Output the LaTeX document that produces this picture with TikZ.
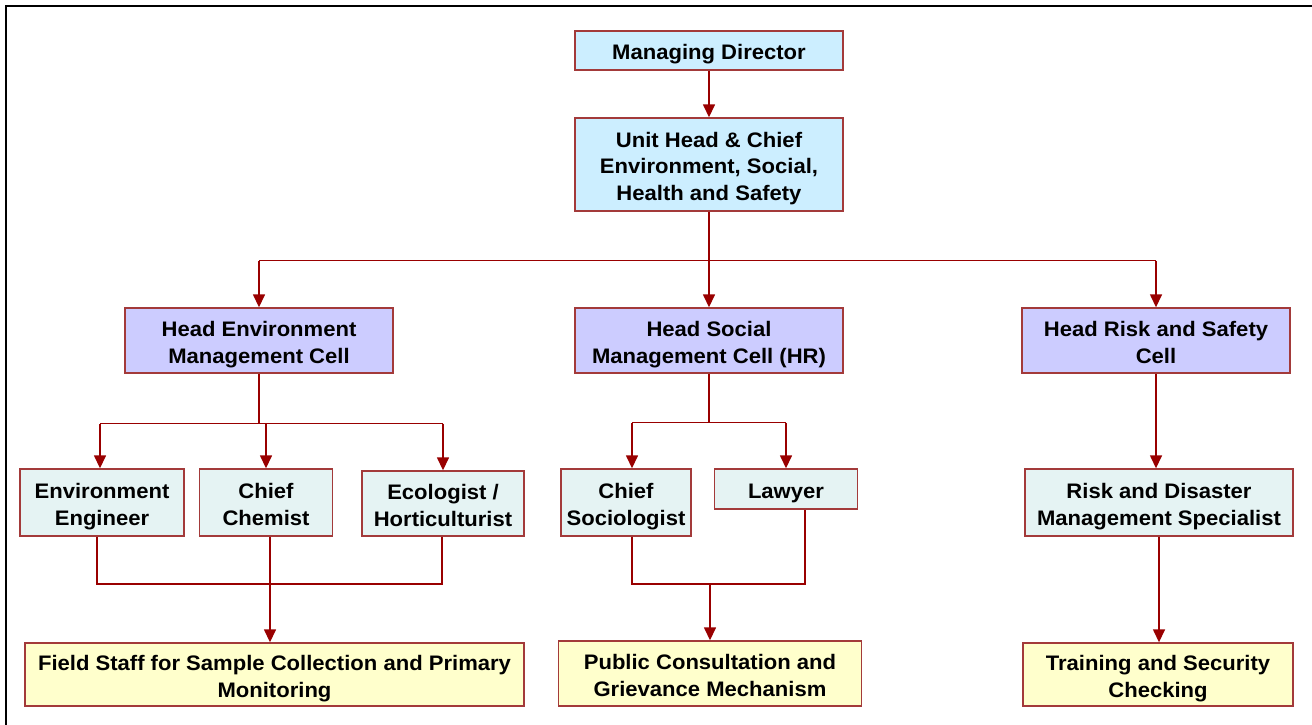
\documentclass[tikz,border=0pt]{standalone}
\usepackage{fontspec}
\setmainfont{Liberation Sans}[FakeStretch=1.05]
\usetikzlibrary{arrows.meta,calc}
\definecolor{linkred}{HTML}{990000}
\definecolor{boxedge}{HTML}{A33A3A}
\definecolor{topfill}{HTML}{CCEEFF}
\definecolor{cellfill}{HTML}{CCCCFF}
\definecolor{stafffill}{HTML}{E5F3F3}
\definecolor{unitfill}{HTML}{FFFFCC}
% centred lines of a box label, set a little below the geometric centre
\newcommand\boxlines[1]{\raisebox{-4pt}[\height][\depth]{%
  \begin{tabular}{@{}c@{}}#1\end{tabular}}}
\begin{document}
\begin{tikzpicture}[x=1pt,y=-1pt,
  orgbox/.style={draw=boxedge,line width=1.4pt,inner sep=0pt,
    font=\fontsize{21}{26.5}\selectfont\bfseries},
  topbox/.style={orgbox,fill=topfill},
  cellbox/.style={orgbox,fill=cellfill},
  staffbox/.style={orgbox,fill=stafffill},
  unitbox/.style={orgbox,fill=unitfill},
  link/.style={draw=linkred,line width=1.5pt},
  arrowlink/.style={link,-{Triangle[width=12pt,length=13pt]}}]
\useasboundingbox (0,0) rectangle (1312,725);
\fill[white] (0,0) rectangle (1312,725);
% outer frame
\draw[line width=2.2pt,black] (6,725) -- (6,6) -- (1312,6);

% boxes: minimum width/height given in pixels
\node[topbox,minimum width=268,minimum height=39] (md) at (709,50.5)
  {\boxlines{Managing Director}};
\node[topbox,minimum width=268,minimum height=93] (uh) at (709,164.5)
  {\boxlines{Unit Head \& Chief\\Environment, Social,\\Health and Safety}};

\node[cellbox,minimum width=268,minimum height=65] (hec) at (259,340.5)
  {\boxlines{Head Environment\\Management Cell}};
\node[cellbox,minimum width=268,minimum height=65] (hsc) at (709,340.5)
  {\boxlines{Head Social\\Management Cell (HR)}};
\node[cellbox,minimum width=268,minimum height=65] (hrc) at (1156,340.5)
  {\boxlines{Head Risk and Safety\\Cell}};

\node[staffbox,minimum width=164,minimum height=67] (eng) at (102,502.5)
  {\boxlines{Environment\\Engineer}};
\node[staffbox,minimum width=133,minimum height=67] (chem) at (266,502.5)
  {\boxlines{Chief\\Chemist}};
\node[staffbox,minimum width=162,minimum height=65] (eco) at (443,503.5)
  {\boxlines{Ecologist /\\Horticulturist}};
\node[staffbox,minimum width=130,minimum height=67] (soc) at (626,502.5)
  {\boxlines{Chief\\Sociologist}};
\node[staffbox,minimum width=143,minimum height=40] (law) at (786,489)
  {\boxlines{Lawyer}};
\node[staffbox,minimum width=268,minimum height=67] (rds) at (1159,502.5)
  {\boxlines{Risk and Disaster\\Management Specialist}};

\node[unitbox,minimum width=499,minimum height=63] (fld) at (274.5,674.5)
  {\boxlines{Field Staff for Sample Collection and Primary\\Monitoring}};
\node[unitbox,minimum width=303,minimum height=65] (pub) at (710,673.5)
  {\boxlines{Public Consultation and\\Grievance Mechanism}};
\node[unitbox,minimum width=270,minimum height=63] (trn) at (1158,674.5)
  {\boxlines{Training and Security\\Checking}};

% junction points of the branch lines
\coordinate (j1) at ($(uh.south)+(0,49)$);
\coordinate (j2) at ($(hec.south)+(0,50)$);
\coordinate (j3) at ($(hsc.south)+(0,49)$);
\coordinate (e1) at ($(eng.south)+(-5,0)$);
\coordinate (c1) at ($(chem.south)+(4,0)$);
\coordinate (g1) at ($(eco.south)+(-1,0)$);
\coordinate (s1) at ($(soc.south)+(6,0)$);
\coordinate (l1) at ($(law.south)+(19,0)$);
\coordinate (j4) at (710,584);

% top chain
\draw[arrowlink] (md) -- (uh);
\draw[link] (uh.south) -- (j1);
\draw[link] (j1 -| hec.north) -- (j1 -| hrc.north);
\draw[arrowlink] (j1 -| hec.north) -- (hec.north);
\draw[arrowlink] (j1) -- (hsc.north);
\draw[arrowlink] (j1 -| hrc.north) -- (hrc.north);

% environment cell
\draw[link] (hec.south) -- (j2);
\draw[link] ($(j2 -| eng.north)+(-2,0)$) -- (j2 -| eco.north);
\draw[arrowlink] ($(j2 -| eng.north)+(-2,0)$) -- ($(eng.north)+(-2,0)$);
\draw[arrowlink] (j2 -| chem.north) -- (chem.north);
\draw[arrowlink] (j2 -| eco.north) -- (eco.north);
\draw[link] (e1) |- (j4 -| c1) -| (g1);
\draw[arrowlink] (c1) -- (c1 |- fld.north);

% social cell
\draw[link] (hsc.south) -- (j3);
\draw[link] ($(j3 -| soc.north)+(6,0)$) -- (j3 -| law.north);
\draw[arrowlink] ($(j3 -| soc.north)+(6,0)$) -- ($(soc.north)+(6,0)$);
\draw[arrowlink] (j3 -| law.north) -- (law.north);
\draw[link] (s1) |- (j4) -| (l1);
\draw[arrowlink] (j4) -- (pub.north);

% risk and safety cell
\draw[arrowlink] (hrc.south) -- (rds.north -| hrc.south);
\draw[arrowlink] (rds.south) -- (trn.north -| rds.south);
\end{tikzpicture}
\end{document}
